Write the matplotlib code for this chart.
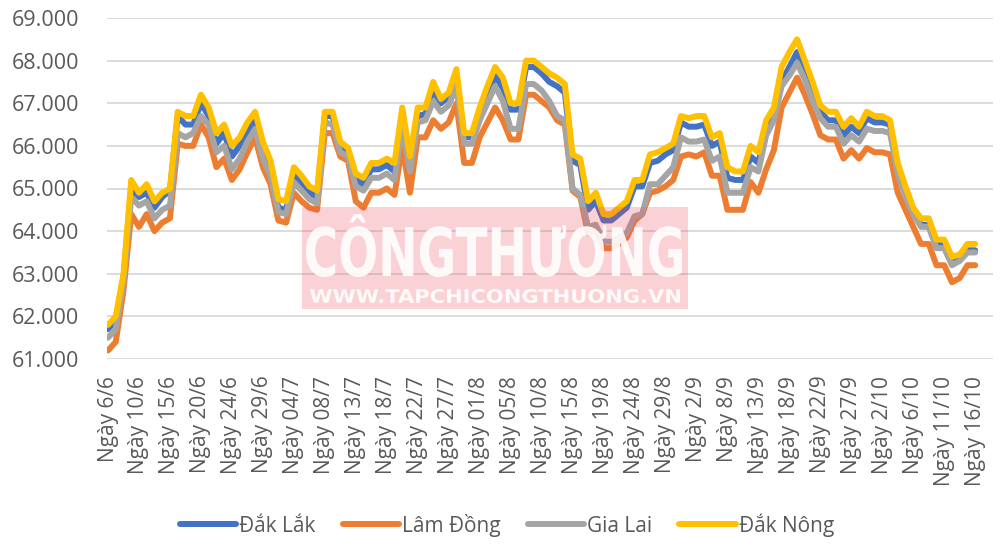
import matplotlib
matplotlib.use("Agg")
import matplotlib.pyplot as plt
from matplotlib.ticker import FuncFormatter, MultipleLocator
from matplotlib.textpath import TextPath
from matplotlib.patches import PathPatch, Rectangle
from matplotlib.font_manager import FontProperties
from matplotlib.transforms import Affine2D

plt.rcParams['font.family'] = ['Open Sans', 'DejaVu Sans']

# tick labels, one every 4 sessions
tick_labels = ["Ngày 6/6", "Ngày 10/6", "Ngày 15/6", "Ngày 20/6", "Ngày 24/6", "Ngày 29/6",
               "Ngày 04/7", "Ngày 08/7", "Ngày 13/7", "Ngày 18/7", "Ngày 22/7", "Ngày 27/7",
               "Ngày 01/8", "Ngày 05/8", "Ngày 10/8", "Ngày 15/8", "Ngày 19/8", "Ngày 24/8",
               "Ngày 29/8", "Ngày 2/9", "Ngày 8/9", "Ngày 13/9", "Ngày 18/9", "Ngày 22/9",
               "Ngày 27/9", "Ngày 2/10", "Ngày 6/10", "Ngày 11/10", "Ngày 16/10"]

# prices, thousand VND/kg
dak_lak = [61.7, 61.9, 62.9, 65.0, 64.8, 64.9, 64.55, 64.8, 64.95, 66.7,
           66.5, 66.5, 67.0, 66.7, 66.05, 66.3, 65.75, 66.0, 66.35, 66.6,
           65.9, 65.45, 64.55, 64.5, 65.3, 65.1, 64.9, 64.8, 66.7, 66.7,
           66.0, 65.9, 65.2, 65.1, 65.45, 65.45, 65.55, 65.4, 66.7, 65.6,
           66.7, 66.75, 67.3, 67.0, 67.15, 67.55, 66.2, 66.2, 66.7, 67.15,
           67.65, 67.35, 66.85, 66.85, 67.85, 67.85, 67.7, 67.5, 67.4, 67.25,
           65.65, 65.55, 64.5, 64.7, 64.25, 64.25, 64.4, 64.55, 65.05, 65.05,
           65.6, 65.65, 65.8, 65.9, 66.55, 66.45, 66.45, 66.5, 66.0, 66.1,
           65.25, 65.2, 65.2, 65.75, 65.6, 66.4, 66.7, 67.5, 67.85, 68.2,
           67.8, 67.25, 66.8, 66.6, 66.6, 66.25, 66.45, 66.3, 66.65, 66.55,
           66.55, 66.5, 65.4, 64.85, 64.45, 64.15, 64.15, 63.7, 63.7, 63.25,
           63.35, 63.55, 63.55]
lam_dong = [61.2, 61.4, 62.6, 64.4, 64.1, 64.4, 64.0, 64.2, 64.3, 66.05,
            66.0, 66.0, 66.5, 66.2, 65.5, 65.7, 65.2, 65.45, 65.85, 66.2,
            65.5, 65.1, 64.25, 64.2, 64.9, 64.7, 64.55, 64.5, 66.3, 66.3,
            65.75, 65.65, 64.7, 64.55, 64.9, 64.9, 65.0, 64.85, 66.0, 64.9,
            66.2, 66.2, 66.6, 66.4, 66.55, 67.0, 65.6, 65.6, 66.2, 66.55,
            66.9, 66.6, 66.15, 66.15, 67.2, 67.2, 67.05, 66.9, 66.6, 66.5,
            64.95, 64.8, 63.95, 64.05, 63.6, 63.6, 63.7, 63.85, 64.25, 64.4,
            64.9, 64.95, 65.05, 65.2, 65.75, 65.8, 65.75, 65.85, 65.3, 65.3,
            64.5, 64.5, 64.5, 65.15, 64.9, 65.45, 65.9, 66.9, 67.25, 67.6,
            67.2, 66.75, 66.25, 66.15, 66.15, 65.7, 65.9, 65.7, 65.95, 65.85,
            65.85, 65.8, 64.9, 64.5, 64.1, 63.7, 63.7, 63.2, 63.2, 62.8,
            62.9, 63.2, 63.2]
gia_lai = [61.5, 61.7, 62.8, 64.8, 64.6, 64.7, 64.3, 64.5, 64.6, 66.3,
           66.2, 66.3, 66.7, 66.5, 65.85, 66.0, 65.45, 65.7, 66.1, 66.4,
           65.7, 65.3, 64.45, 64.4, 65.15, 64.95, 64.75, 64.65, 66.55, 66.5,
           65.85, 65.75, 65.05, 64.95, 65.25, 65.25, 65.35, 65.2, 66.5, 65.4,
           66.55, 66.6, 67.05, 66.8, 66.95, 67.4, 66.05, 66.05, 66.6, 67.0,
           67.4, 67.05, 66.4, 66.4, 67.45, 67.45, 67.3, 67.05, 66.7, 66.6,
           65.0, 64.85, 64.1, 64.15, 63.75, 63.75, 63.85, 63.95, 64.35, 64.4,
           65.1, 65.1, 65.3, 65.5, 66.2, 66.1, 66.1, 66.15, 65.65, 65.75,
           64.9, 64.9, 64.9, 65.5, 65.4, 66.25, 66.6, 67.4, 67.65, 67.95,
           67.55, 67.05, 66.65, 66.45, 66.45, 66.05, 66.25, 66.1, 66.4, 66.35,
           66.35, 66.3, 65.35, 64.8, 64.4, 64.1, 64.1, 63.6, 63.6, 63.2,
           63.3, 63.5, 63.5]
dak_nong = [61.8, 62.0, 63.0, 65.2, 64.9, 65.1, 64.7, 64.9, 65.0, 66.8,
            66.7, 66.7, 67.2, 66.9, 66.3, 66.5, 66.0, 66.2, 66.55, 66.8,
            66.1, 65.65, 64.75, 64.7, 65.5, 65.3, 65.05, 64.95, 66.8, 66.8,
            66.1, 65.95, 65.35, 65.25, 65.6, 65.6, 65.7, 65.6, 66.9, 65.75,
            66.9, 66.9, 67.5, 67.1, 67.25, 67.8, 66.3, 66.3, 66.9, 67.4,
            67.85, 67.6, 67.0, 67.0, 68.0, 68.0, 67.85, 67.7, 67.6, 67.45,
            65.8, 65.7, 64.7, 64.9, 64.4, 64.4, 64.55, 64.7, 65.2, 65.2,
            65.8, 65.85, 65.95, 66.05, 66.7, 66.65, 66.7, 66.7, 66.2, 66.3,
            65.5, 65.4, 65.4, 66.0, 65.85, 66.6, 66.9, 67.85, 68.2, 68.5,
            68.0, 67.5, 66.95, 66.8, 66.8, 66.45, 66.65, 66.45, 66.8, 66.7,
            66.7, 66.6, 65.6, 65.05, 64.55, 64.3, 64.3, 63.8, 63.8, 63.4,
            63.45, 63.7, 63.7]

series = [("Đắk Lắk", dak_lak, "#4472C4"),
          ("Lâm Đồng", lam_dong, "#ED7D31"),
          ("Gia Lai", gia_lai, "#A5A5A5"),
          ("Đắk Nông", dak_nong, "#FFC000")]

W, H = 1000, 546
fig = plt.figure(figsize=(W / 100, H / 100), dpi=100)
ax = fig.add_axes([0.107, 1 - 359 / H, 0.886, (359 - 18) / H])

x = list(range(len(dak_nong)))
for name, vals, col in series:
    ax.plot(x, vals, color=col, lw=4.3, label=name, solid_joinstyle="round", solid_capstyle="round")

ax.set_ylim(61, 69)
ax.set_xlim(-0.13, 114.3)
ax.yaxis.set_major_locator(MultipleLocator(1))
ax.yaxis.set_major_formatter(FuncFormatter(lambda v, p: f"{v:.3f}"))
ax.set_xticks(x[::4])
ax.set_xticklabels(tick_labels, rotation=90, ha="center", va="top")
ax.tick_params(axis="y", length=0, pad=20, labelsize=15.5, labelcolor="#595959")
ax.tick_params(axis="x", length=0, pad=12, labelsize=15, labelcolor="#595959")
ax.yaxis.grid(True, color="#D9D9D9", lw=1.3)
ax.set_axisbelow(True)
for s in ax.spines.values():
    s.set_visible(False)

fig.legend(loc="center", bbox_to_anchor=(0.507, 1 - 525 / H), ncol=4, frameon=False,
           fontsize=15, handlelength=2.7, handletextpad=0.15, columnspacing=1.3,
           labelcolor="#595959")


# watermark of the source site
def fit_text(s, box, prop, color, alpha, z):
    x0, y0, x1, y1 = box
    tp = TextPath((0, 0), s, size=10, prop=prop)
    ext = tp.get_extents()
    sx = (x1 - x0) / ext.width / W
    sy = (y1 - y0) / ext.height / H
    tr = Affine2D().translate(-ext.x0, -ext.y0).scale(sx, sy).translate(x0 / W, 1 - y1 / H) + fig.transFigure
    fig.patches.append(PathPatch(tp, transform=tr, fc=color, ec="none", alpha=alpha, zorder=z))


fig.patches.append(Rectangle((302 / W, 1 - 309 / H), 386 / W, 102 / H, transform=fig.transFigure,
                             fc="#EE4C59", ec="none", alpha=0.25, zorder=5))
bold = FontProperties(family="DejaVu Sans", weight="bold")
fit_text("CÔNGTHƯƠNG", (306, 214, 682, 277), bold, "white", 0.9, 6)
fit_text("WWW.TAPCHICONGTHUONG.VN", (310, 289, 680, 303), bold, "white", 0.9, 6)

fig.savefig("out.png", dpi=100)
